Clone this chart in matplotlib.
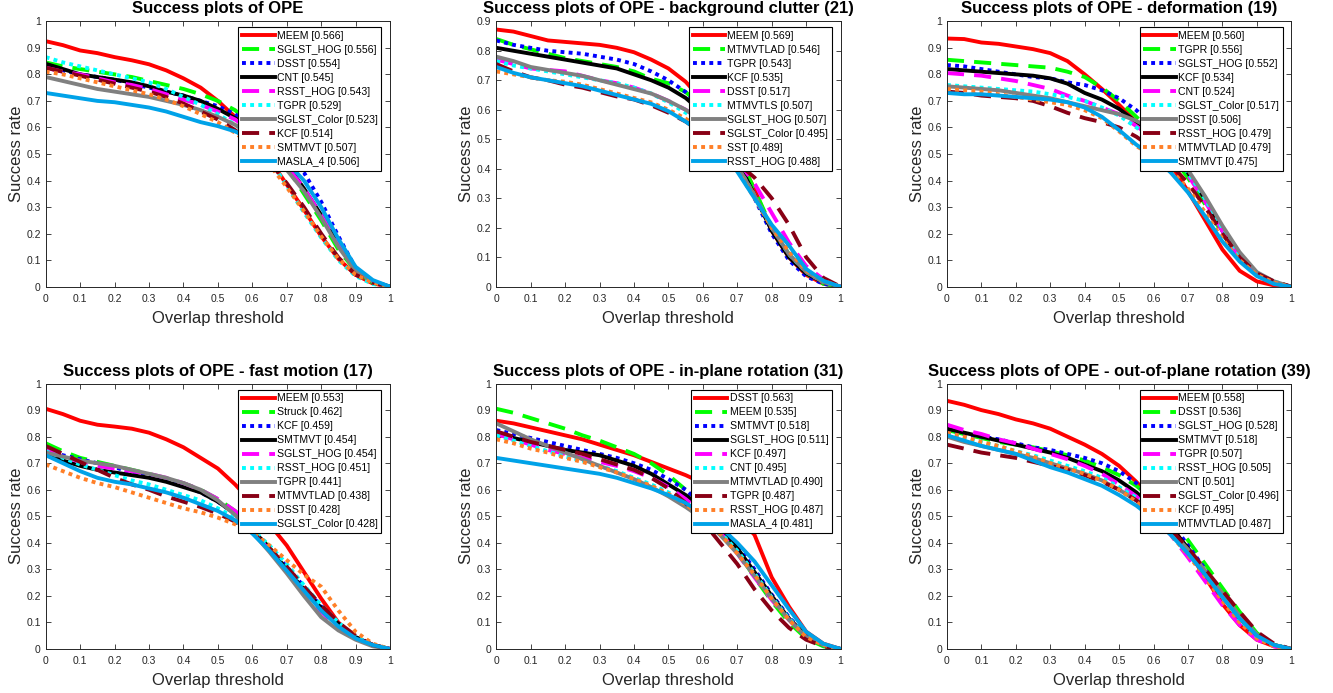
import numpy as np
import matplotlib
matplotlib.use("Agg")
import matplotlib.pyplot as plt

# ==========================================
# DATA (success rate at overlap thresholds 0:0.05:1)
# ==========================================

thresholds = np.linspace(0, 1, 21)

titles = [
    "Success plots of OPE",
    "Success plots of OPE - background clutter (21)",
    "Success plots of OPE - deformation (19)",
    "Success plots of OPE - fast motion (17)",
    "Success plots of OPE - in-plane rotation (31)",
    "Success plots of OPE - out-of-plane rotation (39)",
]

ope_names = ["MEEM", "SGLST_HOG", "DSST", "CNT", "RSST_HOG", "TGPR",
             "SGLST_Color", "KCF", "SMTMVT", "MASLA_4"]
ope_scores = [0.566, 0.556, 0.554, 0.545, 0.543, 0.529, 0.523, 0.514, 0.507, 0.506]
ope_rates = [
    [0.925, 0.91, 0.89, 0.88, 0.865, 0.853, 0.838, 0.815, 0.785, 0.75, 0.70, 0.64, 0.565, 0.48, 0.385, 0.29, 0.19, 0.105, 0.045, 0.012, 0],
    [0.845, 0.83, 0.82, 0.81, 0.80, 0.79, 0.775, 0.76, 0.745, 0.725, 0.70, 0.665, 0.61, 0.54, 0.45, 0.35, 0.25, 0.14, 0.06, 0.015, 0],
    [0.83, 0.815, 0.80, 0.79, 0.78, 0.765, 0.75, 0.735, 0.72, 0.70, 0.68, 0.65, 0.60, 0.54, 0.48, 0.43, 0.32, 0.19, 0.07, 0.02, 0],
    [0.84, 0.82, 0.80, 0.79, 0.78, 0.77, 0.755, 0.735, 0.72, 0.70, 0.67, 0.635, 0.59, 0.53, 0.46, 0.37, 0.27, 0.16, 0.07, 0.02, 0],
    [0.825, 0.81, 0.80, 0.785, 0.77, 0.76, 0.745, 0.725, 0.705, 0.685, 0.66, 0.63, 0.585, 0.525, 0.455, 0.37, 0.27, 0.16, 0.07, 0.02, 0],
    [0.865, 0.845, 0.83, 0.815, 0.80, 0.785, 0.77, 0.745, 0.715, 0.685, 0.65, 0.61, 0.57, 0.48, 0.38, 0.28, 0.185, 0.10, 0.04, 0.01, 0],
    [0.79, 0.775, 0.76, 0.745, 0.735, 0.725, 0.715, 0.70, 0.685, 0.665, 0.64, 0.61, 0.57, 0.51, 0.44, 0.36, 0.26, 0.15, 0.06, 0.02, 0],
    [0.825, 0.81, 0.795, 0.78, 0.765, 0.75, 0.735, 0.715, 0.69, 0.66, 0.63, 0.59, 0.54, 0.47, 0.39, 0.30, 0.20, 0.11, 0.045, 0.015, 0],
    [0.81, 0.80, 0.785, 0.77, 0.755, 0.74, 0.725, 0.705, 0.68, 0.65, 0.62, 0.58, 0.53, 0.46, 0.375, 0.285, 0.19, 0.105, 0.045, 0.015, 0],
    [0.73, 0.72, 0.71, 0.70, 0.695, 0.685, 0.675, 0.66, 0.64, 0.62, 0.605, 0.585, 0.555, 0.52, 0.47, 0.40, 0.30, 0.18, 0.075, 0.025, 0],
]

bc_names = ["MEEM", "MTMVTLAD", "TGPR", "KCF", "DSST", "MTMVTLS",
            "SGLST_HOG", "SGLST_Color", "SST", "RSST_HOG"]
bc_scores = [0.569, 0.546, 0.543, 0.535, 0.517, 0.507, 0.507, 0.495, 0.489, 0.488]
bc_rates = [
    [0.872, 0.865, 0.85, 0.835, 0.83, 0.825, 0.82, 0.81, 0.795, 0.77, 0.74, 0.695, 0.63, 0.55, 0.45, 0.33, 0.19, 0.10, 0.04, 0.01, 0],
    [0.84, 0.82, 0.805, 0.79, 0.775, 0.765, 0.755, 0.745, 0.73, 0.705, 0.69, 0.66, 0.61, 0.54, 0.45, 0.33, 0.20, 0.11, 0.045, 0.01, 0],
    [0.835, 0.82, 0.81, 0.80, 0.795, 0.79, 0.78, 0.77, 0.755, 0.73, 0.70, 0.66, 0.60, 0.52, 0.42, 0.30, 0.18, 0.09, 0.035, 0.01, 0],
    [0.81, 0.80, 0.79, 0.78, 0.77, 0.76, 0.75, 0.74, 0.72, 0.70, 0.675, 0.64, 0.59, 0.52, 0.43, 0.31, 0.19, 0.10, 0.045, 0.015, 0],
    [0.77, 0.755, 0.74, 0.735, 0.73, 0.715, 0.70, 0.69, 0.675, 0.655, 0.63, 0.60, 0.56, 0.50, 0.43, 0.35, 0.25, 0.15, 0.07, 0.025, 0],
    [0.765, 0.75, 0.74, 0.73, 0.72, 0.71, 0.70, 0.69, 0.675, 0.655, 0.625, 0.59, 0.55, 0.49, 0.41, 0.31, 0.20, 0.11, 0.05, 0.015, 0],
    [0.78, 0.765, 0.745, 0.735, 0.725, 0.715, 0.70, 0.685, 0.67, 0.655, 0.63, 0.60, 0.56, 0.49, 0.41, 0.31, 0.20, 0.11, 0.05, 0.015, 0],
    [0.755, 0.73, 0.71, 0.70, 0.685, 0.675, 0.66, 0.645, 0.635, 0.615, 0.59, 0.56, 0.52, 0.47, 0.42, 0.37, 0.30, 0.21, 0.10, 0.03, 0],
    [0.73, 0.72, 0.71, 0.70, 0.695, 0.685, 0.67, 0.655, 0.64, 0.625, 0.60, 0.57, 0.53, 0.47, 0.395, 0.30, 0.20, 0.12, 0.055, 0.02, 0],
    [0.745, 0.725, 0.71, 0.70, 0.69, 0.68, 0.665, 0.65, 0.635, 0.62, 0.595, 0.56, 0.52, 0.465, 0.39, 0.30, 0.21, 0.14, 0.06, 0.02, 0],
]

def_names = ["MEEM", "TGPR", "SGLST_HOG", "KCF", "CNT", "SGLST_Color",
             "DSST", "RSST_HOG", "MTMVTLAD", "SMTMVT"]
def_scores = [0.560, 0.556, 0.552, 0.534, 0.524, 0.517, 0.506, 0.479, 0.479, 0.475]
def_rates = [
    [0.935, 0.933, 0.92, 0.915, 0.905, 0.895, 0.88, 0.85, 0.80, 0.745, 0.685, 0.62, 0.55, 0.46, 0.36, 0.25, 0.14, 0.06, 0.02, 0.005, 0],
    [0.855, 0.85, 0.845, 0.84, 0.835, 0.83, 0.825, 0.81, 0.79, 0.75, 0.70, 0.64, 0.575, 0.50, 0.41, 0.31, 0.20, 0.11, 0.05, 0.015, 0],
    [0.835, 0.83, 0.82, 0.81, 0.80, 0.79, 0.785, 0.77, 0.76, 0.74, 0.71, 0.665, 0.60, 0.52, 0.43, 0.33, 0.22, 0.12, 0.05, 0.015, 0],
    [0.82, 0.815, 0.81, 0.805, 0.80, 0.795, 0.785, 0.765, 0.73, 0.705, 0.67, 0.62, 0.58, 0.52, 0.43, 0.33, 0.21, 0.11, 0.045, 0.015, 0],
    [0.805, 0.80, 0.795, 0.785, 0.775, 0.76, 0.745, 0.72, 0.70, 0.675, 0.65, 0.605, 0.56, 0.50, 0.42, 0.32, 0.21, 0.11, 0.045, 0.015, 0],
    [0.76, 0.755, 0.75, 0.745, 0.74, 0.735, 0.725, 0.715, 0.70, 0.675, 0.645, 0.60, 0.555, 0.50, 0.43, 0.33, 0.22, 0.12, 0.05, 0.02, 0],
    [0.755, 0.75, 0.745, 0.74, 0.73, 0.72, 0.71, 0.695, 0.68, 0.665, 0.65, 0.625, 0.59, 0.53, 0.44, 0.34, 0.23, 0.13, 0.055, 0.02, 0],
    [0.735, 0.73, 0.72, 0.715, 0.71, 0.70, 0.68, 0.655, 0.635, 0.62, 0.60, 0.565, 0.52, 0.46, 0.39, 0.30, 0.20, 0.11, 0.05, 0.02, 0],
    [0.745, 0.74, 0.735, 0.725, 0.715, 0.705, 0.695, 0.685, 0.665, 0.635, 0.585, 0.53, 0.49, 0.44, 0.37, 0.28, 0.18, 0.10, 0.045, 0.015, 0],
    [0.73, 0.725, 0.725, 0.72, 0.715, 0.71, 0.705, 0.695, 0.675, 0.64, 0.59, 0.535, 0.49, 0.43, 0.355, 0.265, 0.17, 0.095, 0.04, 0.01, 0],
]

fm_names = ["MEEM", "Struck", "KCF", "SMTMVT", "SGLST_HOG", "RSST_HOG",
            "TGPR", "MTMVTLAD", "DSST", "SGLST_Color"]
fm_scores = [0.553, 0.462, 0.459, 0.454, 0.454, 0.451, 0.441, 0.438, 0.428, 0.428]
fm_rates = [
    [0.905, 0.885, 0.86, 0.845, 0.838, 0.83, 0.815, 0.79, 0.76, 0.72, 0.68, 0.62, 0.55, 0.47, 0.39, 0.29, 0.19, 0.10, 0.04, 0.015, 0],
    [0.775, 0.745, 0.72, 0.705, 0.69, 0.675, 0.66, 0.64, 0.625, 0.60, 0.565, 0.52, 0.46, 0.38, 0.30, 0.22, 0.15, 0.09, 0.04, 0.015, 0],
    [0.745, 0.73, 0.715, 0.70, 0.685, 0.665, 0.65, 0.635, 0.615, 0.59, 0.555, 0.51, 0.45, 0.38, 0.31, 0.235, 0.16, 0.095, 0.045, 0.015, 0],
    [0.735, 0.71, 0.69, 0.675, 0.665, 0.655, 0.645, 0.63, 0.61, 0.59, 0.555, 0.51, 0.45, 0.38, 0.30, 0.225, 0.155, 0.095, 0.045, 0.015, 0],
    [0.75, 0.725, 0.705, 0.69, 0.68, 0.67, 0.66, 0.645, 0.625, 0.60, 0.565, 0.52, 0.45, 0.37, 0.29, 0.21, 0.14, 0.08, 0.04, 0.015, 0],
    [0.745, 0.72, 0.695, 0.675, 0.655, 0.635, 0.62, 0.60, 0.58, 0.56, 0.53, 0.495, 0.45, 0.39, 0.32, 0.24, 0.165, 0.10, 0.045, 0.015, 0],
    [0.74, 0.725, 0.71, 0.70, 0.69, 0.675, 0.66, 0.645, 0.625, 0.60, 0.56, 0.505, 0.44, 0.365, 0.285, 0.20, 0.12, 0.07, 0.035, 0.01, 0],
    [0.765, 0.735, 0.705, 0.675, 0.645, 0.62, 0.60, 0.575, 0.555, 0.535, 0.51, 0.48, 0.44, 0.38, 0.31, 0.235, 0.165, 0.10, 0.05, 0.015, 0],
    [0.695, 0.67, 0.645, 0.625, 0.61, 0.59, 0.57, 0.55, 0.53, 0.515, 0.495, 0.47, 0.44, 0.39, 0.335, 0.28, 0.235, 0.145, 0.065, 0.02, 0],
    [0.73, 0.70, 0.67, 0.645, 0.63, 0.62, 0.605, 0.59, 0.57, 0.545, 0.52, 0.485, 0.435, 0.37, 0.295, 0.22, 0.145, 0.085, 0.04, 0.015, 0],
]

ipr_names = ["DSST", "MEEM", "SMTMVT", "SGLST_HOG", "KCF", "CNT",
             "MTMVTLAD", "TGPR", "RSST_HOG", "MASLA_4"]
ipr_scores = [0.563, 0.535, 0.518, 0.511, 0.497, 0.495, 0.490, 0.487, 0.487, 0.481]
ipr_rates = [
    [0.86, 0.85, 0.835, 0.82, 0.805, 0.79, 0.77, 0.75, 0.73, 0.705, 0.68, 0.655, 0.625, 0.575, 0.50, 0.43, 0.27, 0.16, 0.065, 0.02, 0],
    [0.905, 0.89, 0.87, 0.85, 0.83, 0.805, 0.785, 0.76, 0.735, 0.70, 0.655, 0.60, 0.54, 0.46, 0.37, 0.27, 0.18, 0.10, 0.04, 0.01, 0],
    [0.825, 0.81, 0.795, 0.78, 0.765, 0.75, 0.735, 0.72, 0.70, 0.675, 0.64, 0.60, 0.54, 0.47, 0.39, 0.30, 0.205, 0.12, 0.05, 0.015, 0],
    [0.81, 0.795, 0.78, 0.765, 0.75, 0.74, 0.73, 0.71, 0.69, 0.66, 0.62, 0.58, 0.53, 0.46, 0.38, 0.29, 0.20, 0.115, 0.05, 0.015, 0],
    [0.81, 0.79, 0.77, 0.75, 0.735, 0.72, 0.705, 0.69, 0.67, 0.645, 0.61, 0.565, 0.51, 0.44, 0.36, 0.27, 0.185, 0.11, 0.045, 0.015, 0],
    [0.805, 0.785, 0.765, 0.745, 0.725, 0.71, 0.69, 0.67, 0.645, 0.62, 0.59, 0.55, 0.50, 0.44, 0.37, 0.285, 0.195, 0.115, 0.05, 0.015, 0],
    [0.85, 0.82, 0.79, 0.765, 0.74, 0.715, 0.69, 0.665, 0.64, 0.61, 0.575, 0.535, 0.49, 0.43, 0.36, 0.275, 0.19, 0.11, 0.045, 0.015, 0],
    [0.82, 0.80, 0.78, 0.765, 0.75, 0.735, 0.715, 0.695, 0.675, 0.645, 0.605, 0.55, 0.48, 0.40, 0.32, 0.225, 0.145, 0.08, 0.035, 0.01, 0],
    [0.79, 0.775, 0.755, 0.74, 0.72, 0.705, 0.685, 0.665, 0.64, 0.615, 0.585, 0.545, 0.495, 0.435, 0.36, 0.28, 0.19, 0.11, 0.045, 0.015, 0],
    [0.72, 0.71, 0.70, 0.69, 0.68, 0.67, 0.66, 0.645, 0.625, 0.605, 0.58, 0.55, 0.51, 0.46, 0.40, 0.33, 0.24, 0.15, 0.065, 0.02, 0],
]

opr_names = ["MEEM", "DSST", "SGLST_HOG", "SMTMVT", "TGPR", "RSST_HOG",
             "CNT", "SGLST_Color", "KCF", "MTMVTLAD"]
opr_scores = [0.558, 0.536, 0.528, 0.518, 0.507, 0.505, 0.501, 0.496, 0.495, 0.487]
opr_rates = [
    [0.935, 0.92, 0.90, 0.885, 0.865, 0.85, 0.83, 0.80, 0.77, 0.735, 0.69, 0.63, 0.56, 0.47, 0.37, 0.27, 0.17, 0.09, 0.035, 0.01, 0],
    [0.825, 0.81, 0.795, 0.78, 0.77, 0.76, 0.745, 0.73, 0.71, 0.685, 0.655, 0.615, 0.56, 0.49, 0.41, 0.32, 0.23, 0.14, 0.06, 0.015, 0],
    [0.82, 0.81, 0.80, 0.79, 0.775, 0.76, 0.75, 0.735, 0.72, 0.70, 0.67, 0.625, 0.56, 0.48, 0.39, 0.30, 0.20, 0.11, 0.045, 0.015, 0],
    [0.83, 0.815, 0.80, 0.785, 0.77, 0.755, 0.74, 0.72, 0.695, 0.67, 0.635, 0.59, 0.53, 0.46, 0.38, 0.29, 0.20, 0.115, 0.05, 0.015, 0],
    [0.845, 0.825, 0.81, 0.79, 0.775, 0.755, 0.735, 0.715, 0.69, 0.66, 0.62, 0.575, 0.51, 0.43, 0.345, 0.255, 0.165, 0.09, 0.035, 0.01, 0],
    [0.81, 0.795, 0.78, 0.765, 0.745, 0.73, 0.71, 0.69, 0.67, 0.645, 0.61, 0.57, 0.515, 0.445, 0.37, 0.285, 0.195, 0.11, 0.045, 0.015, 0],
    [0.80, 0.78, 0.765, 0.75, 0.735, 0.72, 0.70, 0.68, 0.66, 0.635, 0.60, 0.56, 0.51, 0.445, 0.375, 0.295, 0.21, 0.125, 0.055, 0.015, 0],
    [0.77, 0.755, 0.74, 0.73, 0.72, 0.705, 0.69, 0.675, 0.655, 0.63, 0.60, 0.56, 0.51, 0.45, 0.38, 0.30, 0.22, 0.14, 0.065, 0.02, 0],
    [0.815, 0.80, 0.78, 0.765, 0.745, 0.725, 0.70, 0.68, 0.66, 0.635, 0.60, 0.555, 0.50, 0.43, 0.355, 0.27, 0.18, 0.10, 0.04, 0.01, 0],
    [0.805, 0.785, 0.765, 0.75, 0.735, 0.71, 0.685, 0.665, 0.64, 0.615, 0.58, 0.54, 0.49, 0.43, 0.36, 0.28, 0.195, 0.115, 0.05, 0.015, 0],
]

panel_names = [ope_names, bc_names, def_names, fm_names, ipr_names, opr_names]
panel_scores = [ope_scores, bc_scores, def_scores, fm_scores, ipr_scores, opr_scores]
panel_rates = [ope_rates, bc_rates, def_rates, fm_rates, ipr_rates, opr_rates]
panel_ymax = [1.0, 0.9, 1.0, 1.0, 1.0, 1.0]

# ==========================================
# STYLE (OTB toolkit rank styles)
# ==========================================

colors = [(1, 0, 0), (0, 1, 0), (0, 0, 1), (0, 0, 0), (1, 0, 1), (0, 1, 1),
          (0.5, 0.5, 0.5), (136/255, 0, 21/255), (1, 127/255, 39/255), (0, 162/255, 232/255)]
solid = "-"
dashed = (0, (4.4, 2.6))
dotted = (0, (1, 1.1))
styles = [solid, dashed, dotted, solid, dashed, dotted, solid, dashed, dotted, solid]

plt.rcParams["font.family"] = ["Liberation Sans", "DejaVu Sans"]
text_gray = "#262626"

fig = plt.figure(figsize=(13.33, 6.93), dpi=100)

lefts = [0.0343, 0.3723, 0.7104]
bottoms = [0.5863, 0.0635]
w, h = 0.2583, 0.3830


def tick_text(v):
    return "0" if v == 0 else ("1" if v == 1 else f"{v:g}")


for i in range(6):
    ax = fig.add_axes([lefts[i % 3], bottoms[i // 3], w, h])
    names = panel_names[i]
    scores = panel_scores[i]
    rates = panel_rates[i]
    for k in range(10):
        ax.plot(thresholds, rates[k], color=colors[k], linestyle=styles[k],
                linewidth=2.8, label=f"{names[k]} [{scores[k]:.3f}]")

    ymax = panel_ymax[i]
    ax.set_xlim(0, 1)
    ax.set_ylim(0, ymax)
    xt = np.round(np.arange(0, 1.0001, 0.1), 1)
    yt = np.round(np.arange(0, ymax + 0.0001, 0.1), 1)
    ax.set_xticks(xt)
    ax.set_yticks(yt)
    ax.set_xticklabels([tick_text(v) for v in xt])
    ax.set_yticklabels([tick_text(v) for v in yt])
    ax.tick_params(direction="in", top=True, right=True, length=3.5, width=0.6,
                   labelsize=7.5, colors=text_gray)
    ax.tick_params(axis="x", pad=5)
    ax.tick_params(axis="y", pad=3.5)
    for s in ax.spines.values():
        s.set_color(text_gray)
        s.set_linewidth(0.7)

    ax.set_title(titles[i], fontsize=12, fontweight="bold", pad=6 if i < 3 else 5.5)
    ax.set_xlabel("Overlap threshold", fontsize=12, color=text_gray, labelpad=5)
    ax.set_ylabel("Success rate", fontsize=12, color=text_gray, labelpad=2)

    leg = ax.legend(loc="upper right", bbox_to_anchor=(0.975, 0.977),
                    borderaxespad=0, fontsize=7.6, frameon=True, fancybox=False,
                    edgecolor="black", framealpha=1, borderpad=0.35,
                    labelspacing=0.38, handlelength=3.1, handletextpad=0.2)
    leg.get_frame().set_linewidth(0.8)

fig.savefig("out.png", dpi=100)
